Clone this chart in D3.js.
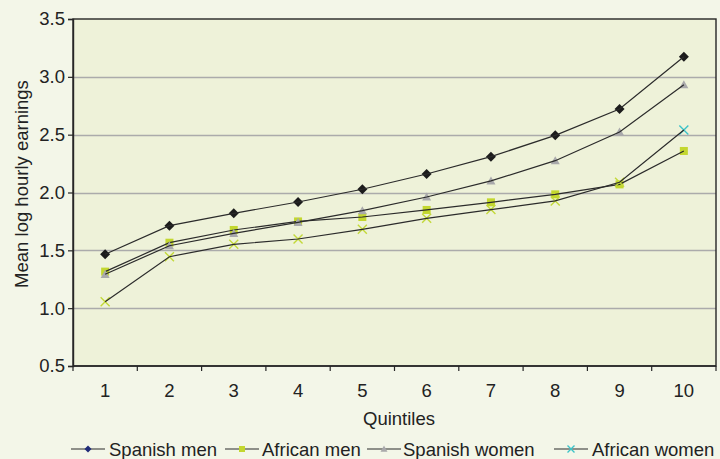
<!DOCTYPE html>
<html>
<head>
<meta charset="utf-8">
<script src="https://cdn.jsdelivr.net/npm/d3@7"></script>
<style>
  html, body { margin: 0; padding: 0; background: #f3f6e8; }
  svg { display: block; }
  text { font-family: "Liberation Sans", Arial, Helvetica, sans-serif; fill: #222; }
</style>
</head>
<body>
<svg id="chart" width="720" height="459"></svg>
<script>
// Mean log hourly earnings by earnings decile
const quintiles = [1, 2, 3, 4, 5, 6, 7, 8, 9, 10];
const yTicks = [0.5, 1.0, 1.5, 2.0, 2.5, 3.0, 3.5];
const seriesNames = ["Spanish men", "African men", "Spanish women", "African women"];
const spanishMen   = [1.466, 1.713, 1.820, 1.918, 2.028, 2.160, 2.310, 2.494, 2.722, 3.174];
const africanMen   = [1.316, 1.566, 1.676, 1.750, 1.788, 1.849, 1.915, 1.984, 2.070, 2.359];
const spanishWomen = [1.293, 1.540, 1.647, 1.742, 1.843, 1.961, 2.100, 2.275, 2.523, 2.932];
const africanWomen = [1.056, 1.445, 1.552, 1.598, 1.682, 1.777, 1.852, 1.927, 2.088, 2.540];

const svg = d3.select("#chart");
const W = 720, H = 459;
const m = { left: 73, top: 19, right: 4, bottom: 93 };
const pw = W - m.left - m.right, ph = H - m.top - m.bottom;

const x = d3.scaleBand().domain(quintiles).range([m.left, m.left + pw]);
const y = d3.scaleLinear().domain([0.5, 3.5]).range([m.top + ph, m.top]);
const cx = q => x(q) + x.bandwidth() / 2;

// plot area
svg.append("rect").attr("x", m.left).attr("y", m.top).attr("width", pw).attr("height", ph)
  .attr("fill", "#eef2d9");

// horizontal gridlines
svg.append("g").selectAll("line").data(yTicks.filter(v => v > 0.5 && v < 3.5)).join("line")
  .attr("x1", m.left).attr("x2", m.left + pw)
  .attr("y1", d => Math.round(y(d)) + 0.5).attr("y2", d => Math.round(y(d)) + 0.5)
  .attr("stroke", "#ababab").attr("stroke-width", 1.3);

// frame
svg.append("rect").attr("x", m.left).attr("y", m.top).attr("width", pw).attr("height", ph)
  .attr("fill", "none").attr("stroke", "#262626").attr("stroke-width", 1.4);

// y axis
const yAxis = d3.axisLeft(y).tickValues(yTicks).tickFormat(d3.format(".1f")).tickSize(5).tickPadding(3);
const gy = svg.append("g").attr("transform", `translate(${m.left},0)`).call(yAxis);
gy.select(".domain").attr("stroke", "#262626").attr("stroke-width", 1.4);
gy.selectAll(".tick line").attr("stroke", "#262626").attr("stroke-width", 1.2);
gy.selectAll(".tick text").style("font-size", "18.5px").attr("fill", "#222");

// x axis: ticks at category boundaries, labels centred in each band
const gx = svg.append("g").attr("transform", `translate(0,${m.top + ph})`);
gx.append("line").attr("x1", m.left).attr("x2", m.left + pw).attr("stroke", "#262626").attr("stroke-width", 1.4);
const bounds = quintiles.map(q => x(q)).concat([m.left + pw]);
gx.selectAll("line.tk").data(bounds).join("line").attr("class", "tk")
  .attr("x1", d => d).attr("x2", d => d).attr("y1", 0).attr("y2", 5)
  .attr("stroke", "#262626").attr("stroke-width", 1.2);
gx.selectAll("text").data(quintiles).join("text")
  .attr("x", d => cx(d)).attr("y", 31).attr("text-anchor", "middle")
  .style("font-size", "18.5px").text(d => d);

// axis titles
svg.append("text").attr("x", 399).attr("y", 425).attr("text-anchor", "middle")
  .style("font-size", "18.5px").text("Quintiles");
svg.append("text").attr("transform", "translate(28,184) rotate(-90)").attr("text-anchor", "middle")
  .style("font-size", "18.5px").text("Mean log hourly earnings");

// marker shapes
const shapes = {
  diamond: (g, s, c) => g.append("path").attr("d", `M0,${-s}L${s},0L0,${s}L${-s},0Z`).attr("fill", c),
  square: (g, s, c) => g.append("rect").attr("x", -s).attr("y", -s).attr("width", 2 * s).attr("height", 2 * s).attr("fill", c),
  triangle: (g, s, c) => g.append("path").attr("d", `M0,${-s}L${s},${s * 0.8}L${-s},${s * 0.8}Z`).attr("fill", c),
  cross: (g, s, c) => g.append("path").attr("d", `M${-s},${-s}L${s},${s}M${s},${-s}L${-s},${s}`)
    .attr("stroke", c).attr("stroke-width", 1.4).attr("fill", "none")
};

const series = [
  { name: seriesNames[0], values: spanishMen,   shape: "diamond",  size: 5,   color: "#1c1c1c", legendColor: "#1f2b78" },
  { name: seriesNames[1], values: africanMen,   shape: "square",   size: 4,   color: "#c3d72f", legendColor: "#c3d72f" },
  { name: seriesNames[2], values: spanishWomen, shape: "triangle", size: 4.5, color: "#a9a9ab", legendColor: "#a9a9ab" },
  { name: seriesNames[3], values: africanWomen, shape: "cross",    size: 4.5, color: "#c3d93a", legendColor: "#3cc3c8" }
];

const line = d3.line().x((d, i) => cx(quintiles[i])).y(d => y(d));

series.forEach(s => {
  const g = svg.append("g");
  g.selectAll("g.pt").data(s.values).join("g").attr("class", "pt")
    .attr("transform", (d, i) => `translate(${cx(quintiles[i])},${y(d)})`)
    .each(function (d, i) {
      const last = s.shape === "cross" && i === s.values.length - 1;
      shapes[s.shape](d3.select(this), s.size, last ? s.legendColor : s.color);
    });
  g.append("path").datum(s.values).attr("d", line)
    .attr("fill", "none").attr("stroke", "#2b2b2b").attr("stroke-width", 1.2);
});

// legend
const legendX = [71, 225, 367, 554];
const textX = [109, 262, 403, 592];
const ly = 449;
series.forEach((s, i) => {
  const g = svg.append("g");
  g.append("line").attr("x1", legendX[i]).attr("x2", legendX[i] + 34).attr("y1", ly).attr("y2", ly)
    .attr("stroke", "#2b2b2b").attr("stroke-width", 1.2);
  const mk = g.append("g").attr("transform", `translate(${legendX[i] + 17},${ly})`);
  shapes[s.shape](mk, s.shape === "square" ? 3 : 3.5, s.legendColor);
  g.append("text").attr("x", textX[i]).attr("y", ly + 6.5).style("font-size", "18.5px").text(s.name);
});
</script>
</body>
</html>
